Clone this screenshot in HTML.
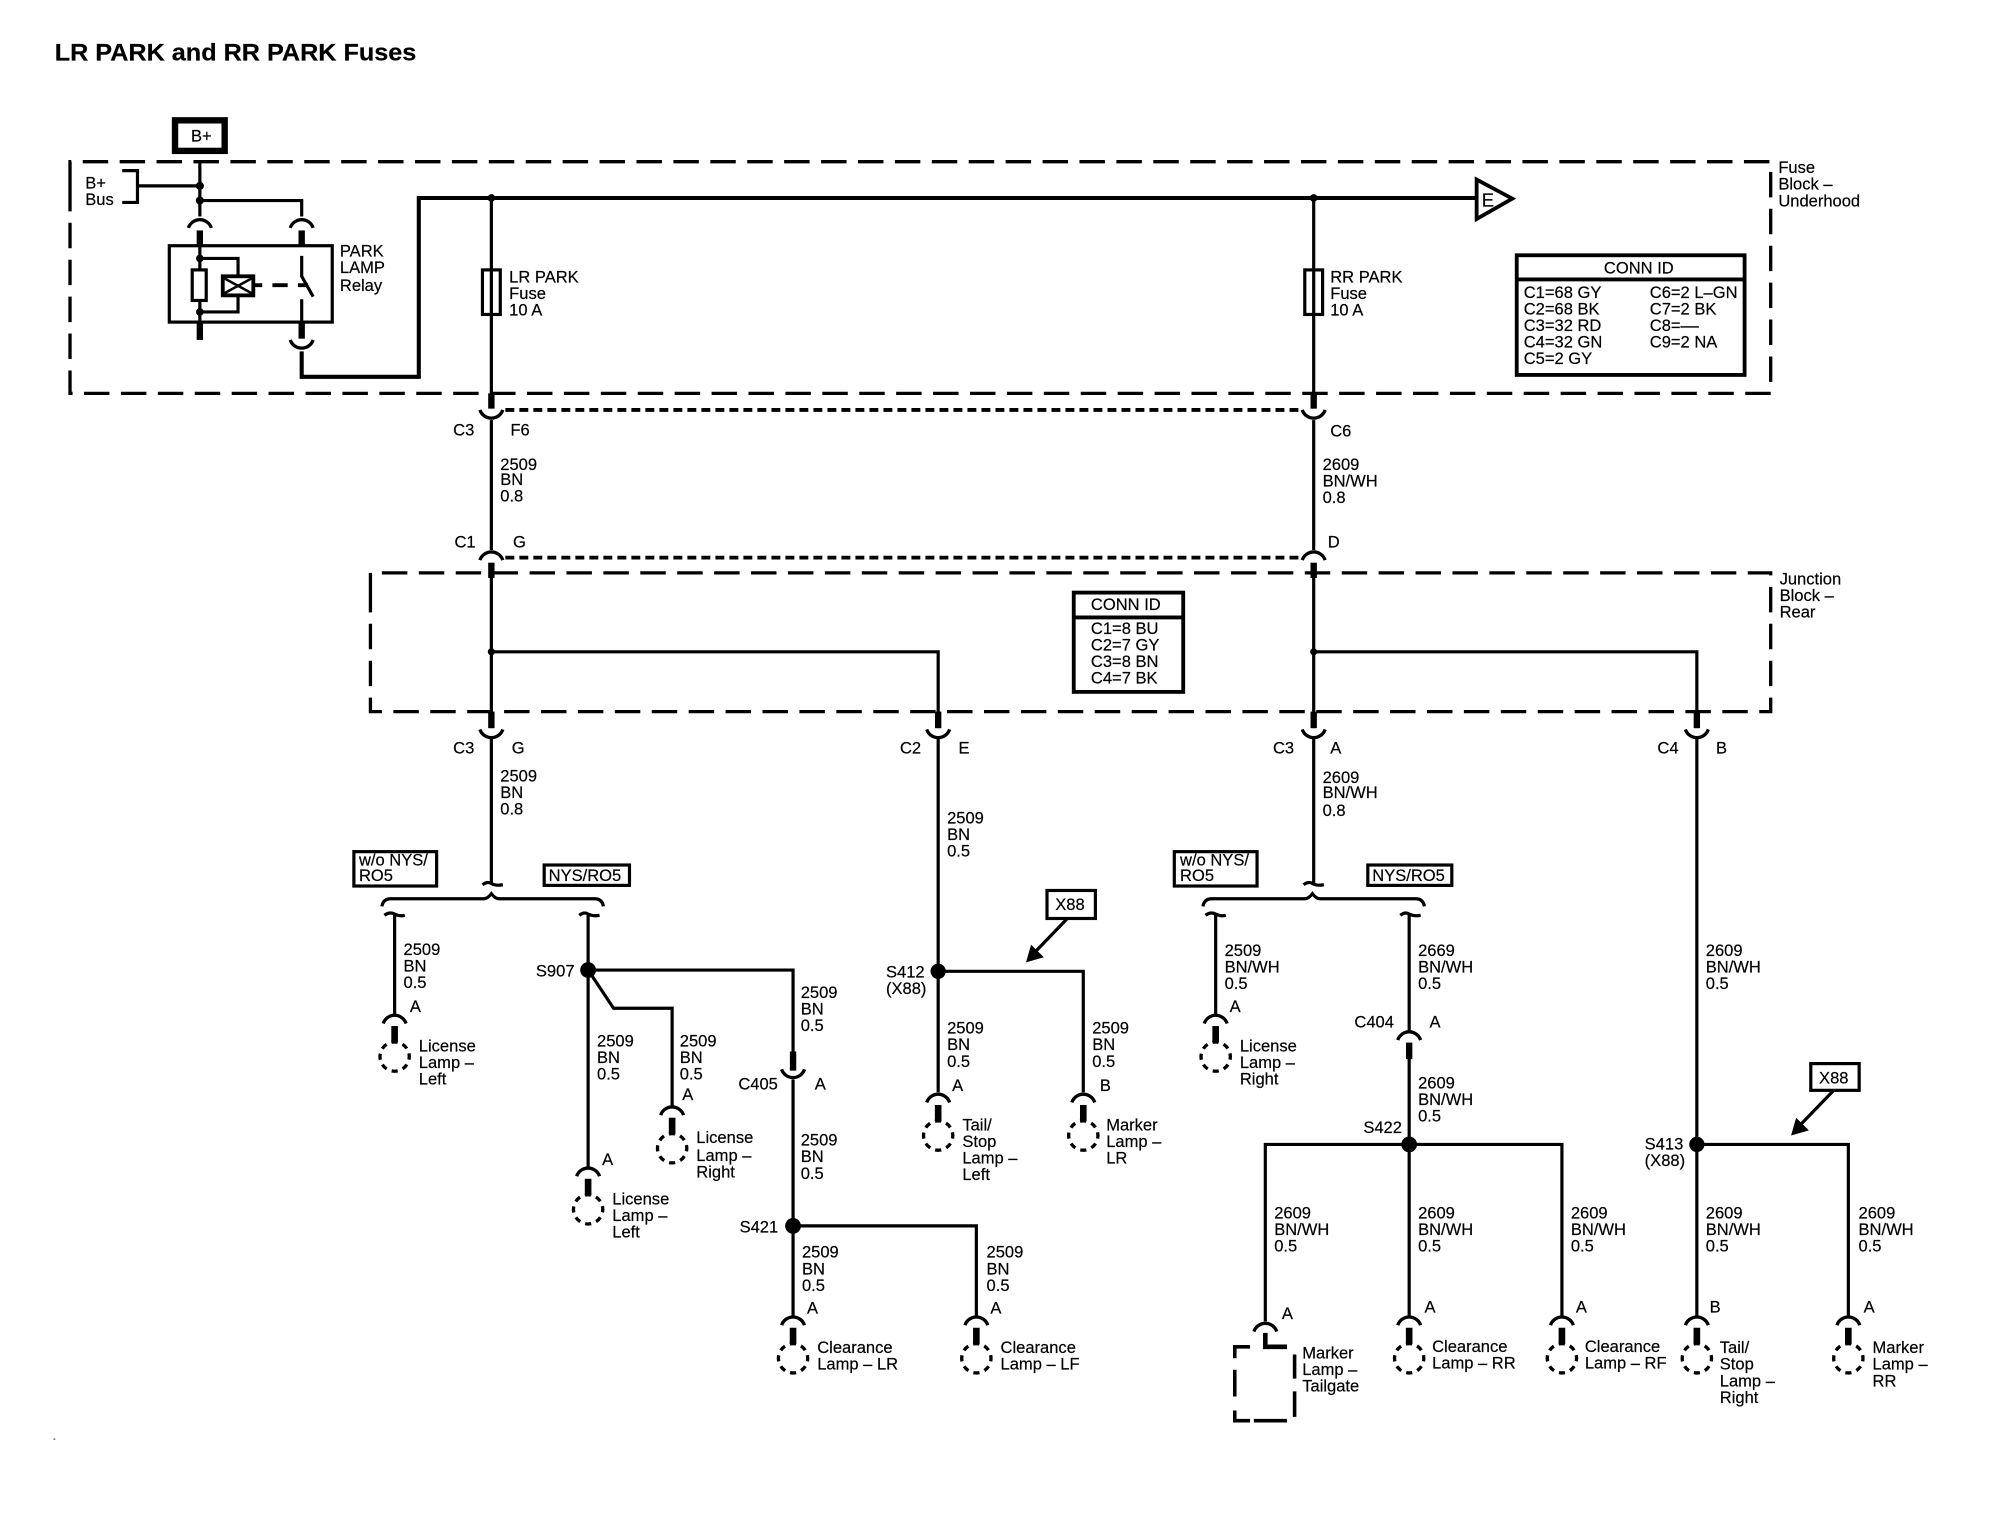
<!DOCTYPE html>
<html><head><meta charset="utf-8"><title>LR PARK and RR PARK Fuses</title>
<style>
html,body{margin:0;padding:0;background:#fff}
svg{display:block}
text{font-family:"Liberation Sans",sans-serif;font-size:13px;fill:#000;stroke:#000;stroke-width:.15}
.w{fill:none;stroke:#000;stroke-width:2.5}
.m{fill:none;stroke:#000;stroke-width:3.2}
.d{fill:none;stroke:#000;stroke-width:2.6;stroke-dasharray:20 9}
.s{fill:none;stroke:#000;stroke-width:3;stroke-dasharray:7 4}
.b{fill:#fff;stroke:#000;stroke-width:2.6}
</style></head><body>
<svg width="1996" height="1520" viewBox="0 0 1568 1194" xmlns="http://www.w3.org/2000/svg">
<defs>
<g id="lamp"><path d="M-9 9A9.5 9.5 0 0 1 9 9" fill="none" stroke="#000" stroke-width="2.6"/><rect x="-2.6" y="11" width="5.2" height="13" fill="#000"/><circle cy="35" r="11.5" fill="none" stroke="#000" stroke-width="2.6" stroke-dasharray="4.8 4.2" stroke-dashoffset="2.4"/></g>
<g id="capT"><path d="M-9 9A9.5 9.5 0 0 1 9 9" fill="none" stroke="#000" stroke-width="2.6"/></g>
<g id="capB"><path d="M-9 0A9.5 9.5 0 0 0 9 0" fill="none" stroke="#000" stroke-width="2.6"/></g>
<g id="brace"><path d="M300 712Q301 706 307 706H380Q383 706 386 702Q389 706 392 706H467Q473 706 474 712" class="w"/><path d="M379 695Q383 692 386 694Q389 696 395 695M302 719Q306 716 310 718Q314 720 318 719M455 719Q459 716 462 718Q466 720 471 719" class="w"/></g>
<g id="fuse"><rect x="-7" y="0" width="14" height="35" class="w"/></g>
</defs>

<text x="43" y="47.5" style="font-size:19px;font-weight:bold" textLength="284" lengthAdjust="spacingAndGlyphs">LR PARK and RR PARK Fuses</text>
<rect x="137.5" y="94.5" width="39" height="24" fill="none" stroke="#000" stroke-width="5"/>
<text x="150" y="111">B+</text>

<path class="d" d="M55 146V127H1391V309H55V146"/>
<path class="d" d="M291 470V450H1391V559H291V470"/>
<text x="67" y="148">B+</text><text x="67" y="161">Bus</text>
<path class="w" d="M96 134H108V159H96M108 146H157M157 127V170M157 157.5H237V170"/>
<circle cx="157" cy="146" r="3.2"/><circle cx="157" cy="157.5" r="3.2"/>
<use href="#capT" x="157" y="170"/><use href="#capT" x="237" y="170"/>
<rect x="133" y="193" width="128" height="60" class="w"/>
<rect x="154.5" y="181" width="5" height="13"/><rect x="234.5" y="181" width="5" height="13"/>
<path class="w" d="M157 193V212M157 236V254M157 203H187V217M187 231V245H157"/>
<rect x="154.5" y="254" width="5" height="13"/>
<circle cx="157" cy="203" r="3"/><circle cx="157" cy="245" r="3"/>
<rect x="151" y="212" width="11" height="24" class="w"/>
<rect x="175" y="217" width="24" height="15" class="w" style="stroke-width:3"/>
<path d="M175 218L199 231M175 231L199 218" stroke="#000" stroke-width="2"/>
<path d="M200 224H206M214 224H226M234 224H242" class="w" style="stroke-width:3"/>
<path class="w" d="M237 201V217L246 233M237 235V254"/>
<rect x="234.5" y="254" width="5" height="12"/>
<use href="#capB" x="237" y="267"/>
<path class="m" d="M237 276V296H329V155.5H1160"/>
<circle cx="386" cy="155.5" r="3"/><circle cx="1032" cy="155.5" r="3"/>
<polygon points="1160,141 1188,156 1160,172" fill="#fff" stroke="#000" stroke-width="3"/>
<text x="1164" y="162" style="font-size:14.5px">E</text>

<text x="267" y="201.5">PARK</text><text x="267" y="214.5">LAMP</text><text x="267" y="228.5">Relay</text>
<text x="1397" y="136">Fuse</text><text x="1397" y="149">Block –</text><text x="1397" y="162">Underhood</text>
<text x="1398" y="459">Junction</text><text x="1398" y="472">Block –</text><text x="1398" y="485">Rear</text>

<!-- left and right main wires -->
<path class="w" d="M386 155V310M1032 155V310M386 330V432M1032 330V432"/>
<rect x="383.5" y="309" width="5" height="12"/><rect x="1029.5" y="309" width="5" height="12"/>
<use href="#capB" x="386" y="322"/><use href="#capB" x="1032" y="322"/>
<use href="#fuse" x="386" y="212"/><use href="#fuse" x="1032" y="212"/>
<text x="400" y="222">LR PARK</text><text x="400" y="235">Fuse</text><text x="400" y="248">10 A</text>
<text x="1045" y="222">RR PARK</text><text x="1045" y="235">Fuse</text><text x="1045" y="248">10 A</text>
<path class="s" d="M397 322H1024M397 438H1024"/>
<text x="356" y="342">C3</text><text x="401" y="342">F6</text><text x="1045" y="343">C6</text>
<text x="393" y="369">2509</text><text x="393" y="381">BN</text><text x="393" y="394">0.8</text>
<text x="1039" y="369">2609</text><text x="1039" y="382">BN/WH</text><text x="1039" y="395">0.8</text>
<text x="357" y="430">C1</text><text x="403" y="430">G</text><text x="1043" y="430">D</text>
<use href="#capT" x="386" y="431"/><use href="#capT" x="1032" y="431"/>
<rect x="383.5" y="442" width="5" height="12"/><rect x="1029.5" y="442" width="5" height="12"/>
<path class="w" d="M386 450V572M1032 450V572M386 512H737V572M1032 512H1333V572"/>
<circle cx="386" cy="512" r="2.8"/><circle cx="1032" cy="512" r="2.8"/>
<rect x="383.5" y="559" width="5" height="13"/><rect x="734.5" y="559" width="5" height="13"/><rect x="1029.5" y="559" width="5" height="13"/><rect x="1330.5" y="559" width="5" height="13"/>
<use href="#capB" x="386" y="573"/><use href="#capB" x="737" y="573"/><use href="#capB" x="1032" y="573"/><use href="#capB" x="1333" y="573"/>

<!-- conn id boxes -->
<rect x="1191.5" y="200.5" width="179" height="94" class="w" style="stroke-width:3"/>
<path class="w" style="stroke-width:3" d="M1191 219.5H1371"/>
<text x="1260" y="215">CONN ID</text>
<text x="1197" y="234">C1=68 GY</text><text x="1197" y="247">C2=68 BK</text><text x="1197" y="260">C3=32 RD</text><text x="1197" y="273">C4=32 GN</text><text x="1197" y="286">C5=2 GY</text>
<text x="1296" y="234">C6=2 L–GN</text><text x="1296" y="247">C7=2 BK</text><text x="1296" y="260">C8=––</text><text x="1296" y="273">C9=2 NA</text>
<rect x="843.5" y="465.5" width="86" height="78" class="b" style="stroke-width:3"/>
<path class="w" style="stroke-width:3" d="M843 485H930"/>
<text x="857" y="479">CONN ID</text>
<text x="857" y="498">C1=8 BU</text><text x="857" y="511">C2=7 GY</text><text x="857" y="524">C3=8 BN</text><text x="857" y="537">C4=7 BK</text>

<text x="356" y="592">C3</text><text x="402" y="592">G</text><text x="707" y="592">C2</text><text x="753" y="592">E</text><text x="1000" y="592">C3</text><text x="1045" y="592">A</text><text x="1302" y="592">C4</text><text x="1348" y="592">B</text>
<text x="393" y="614">2509</text><text x="393" y="627">BN</text><text x="393" y="640">0.8</text>
<text x="744" y="647">2509</text><text x="744" y="660">BN</text><text x="744" y="673">0.5</text>
<text x="1039" y="615">2609</text><text x="1039" y="627">BN/WH</text><text x="1039" y="641">0.8</text>
<text x="1340" y="751">2609</text><text x="1340" y="764">BN/WH</text><text x="1340" y="777">0.5</text>

<path class="w" d="M386 580V694M737 580V858M1032 580V694M1333 580V1034"/>

<!-- left option -->
<rect x="278" y="669" width="65" height="27" class="w"/><text x="282" y="680">w/o NYS/</text><text x="282" y="692">RO5</text>
<rect x="427.5" y="679.5" width="67" height="16" class="w"/><text x="431" y="692">NYS/RO5</text>
<use href="#brace"/>
<path class="w" d="M310 718V797M462 718V917M462 762H623V826M623 848V1034M462 762L482 792H528V869M623 963H767V1034"/>
<rect x="620.5" y="826" width="5" height="15"/><use href="#capB" x="623" y="840"/>
<circle cx="462" cy="762" r="6.2"/><circle cx="623" cy="963" r="6.2"/>
<use href="#lamp" x="310" y="795"/><use href="#lamp" x="462" y="915"/><use href="#lamp" x="528" y="867"/><use href="#lamp" x="623" y="1032"/><use href="#lamp" x="767" y="1032"/>
<text x="317" y="750">2509</text><text x="317" y="763">BN</text><text x="317" y="776">0.5</text><text x="322" y="795">A</text>
<text x="329" y="826">License</text><text x="329" y="839">Lamp –</text><text x="329" y="852">Left</text>
<text x="421" y="767">S907</text>
<text x="469" y="822">2509</text><text x="469" y="835">BN</text><text x="469" y="848">0.5</text><text x="473" y="915">A</text>
<text x="481" y="946">License</text><text x="481" y="959">Lamp –</text><text x="481" y="972">Left</text>
<text x="534" y="822">2509</text><text x="534" y="835">BN</text><text x="534" y="848">0.5</text><text x="536" y="864">A</text>
<text x="547" y="898">License</text><text x="547" y="912">Lamp –</text><text x="547" y="925">Right</text>
<text x="629" y="784">2509</text><text x="629" y="797">BN</text><text x="629" y="810">0.5</text>
<text x="580" y="856">C405</text><text x="640" y="856">A</text>
<text x="629" y="900">2509</text><text x="629" y="913">BN</text><text x="629" y="926">0.5</text>
<text x="581" y="968">S421</text>
<text x="630" y="988">2509</text><text x="630" y="1001">BN</text><text x="630" y="1014">0.5</text><text x="634" y="1032">A</text>
<text x="775" y="988">2509</text><text x="775" y="1001">BN</text><text x="775" y="1014">0.5</text><text x="778" y="1032">A</text>
<text x="642" y="1063">Clearance</text><text x="642" y="1076">Lamp – LR</text>
<text x="786" y="1063">Clearance</text><text x="786" y="1076">Lamp – LF</text>

<!-- S412 -->
<circle cx="737" cy="763" r="6"/>
<path class="w" d="M737 763H851V858"/>
<use href="#lamp" x="737" y="857"/><use href="#lamp" x="851" y="857"/>
<text x="696" y="768">S412</text><text x="696" y="781">(X88)</text>
<text x="744" y="812">2509</text><text x="744" y="825">BN</text><text x="744" y="838">0.5</text><text x="748" y="857">A</text>
<text x="858" y="812">2509</text><text x="858" y="825">BN</text><text x="858" y="838">0.5</text><text x="864" y="857">B</text>
<text x="756" y="888">Tail/</text><text x="756" y="901">Stop</text><text x="756" y="914">Lamp –</text><text x="756" y="927">Left</text>
<text x="869" y="888">Marker</text><text x="869" y="901">Lamp –</text><text x="869" y="914">LR</text>
<rect x="822.5" y="699.5" width="38" height="22" class="w"/><text x="829" y="715">X88</text>
<path class="w" d="M838 722L812 749"/><polygon points="806,756 810,742 820,752"/>

<!-- right option -->
<rect x="922.5" y="669" width="65" height="27" class="w"/><text x="927" y="680">w/o NYS/</text><text x="927" y="692">RO5</text>
<rect x="1074.5" y="679.5" width="66" height="16" class="w"/><text x="1078" y="692">NYS/RO5</text>
<use href="#brace" x="645"/>
<path class="w" d="M955 718V797M1107 718V810M1107 830V899M994 1038V899H1227V1034M1107 899V1034"/>
<use href="#capT" x="1107" y="808"/><rect x="1104.5" y="819" width="5" height="13"/>
<circle cx="1107" cy="899" r="6.2"/>
<use href="#lamp" x="955" y="795"/><use href="#lamp" x="1107" y="1032"/><use href="#lamp" x="1227" y="1032"/><use href="#lamp" x="1333" y="1032"/><use href="#lamp" x="1452" y="1032"/>
<use href="#capT" x="994" y="1037"/>
<path d="M994 1047V1058H1011" fill="none" stroke="#000" stroke-width="3.6"/>
<path d="M982 1058H970V1067M970 1076V1097M970 1108V1116H982M985 1116H1011M1017 1113V1093M1017 1083V1064" fill="none" stroke="#000" stroke-width="2.8"/>
<text x="962" y="751">2509</text><text x="962" y="764">BN/WH</text><text x="962" y="777">0.5</text><text x="966" y="795">A</text>
<text x="974" y="826">License</text><text x="974" y="839">Lamp –</text><text x="974" y="852">Right</text>
<text x="1114" y="751">2669</text><text x="1114" y="764">BN/WH</text><text x="1114" y="777">0.5</text>
<text x="1064" y="807">C404</text><text x="1123" y="807">A</text>
<text x="1114" y="855">2609</text><text x="1114" y="868">BN/WH</text><text x="1114" y="881">0.5</text>
<text x="1071" y="890">S422</text>
<text x="1001" y="957">2609</text><text x="1001" y="970">BN/WH</text><text x="1001" y="983">0.5</text><text x="1007" y="1036">A</text>
<text x="1114" y="957">2609</text><text x="1114" y="970">BN/WH</text><text x="1114" y="983">0.5</text><text x="1119" y="1031">A</text>
<text x="1234" y="957">2609</text><text x="1234" y="970">BN/WH</text><text x="1234" y="983">0.5</text><text x="1238" y="1031">A</text>
<text x="1023" y="1067">Marker</text><text x="1023" y="1080">Lamp –</text><text x="1023" y="1093">Tailgate</text>
<text x="1125" y="1062">Clearance</text><text x="1125" y="1075">Lamp – RR</text>
<text x="1245" y="1062">Clearance</text><text x="1245" y="1075">Lamp – RF</text>

<!-- S413 -->
<circle cx="1333" cy="899" r="6"/>
<path class="w" d="M1333 899H1452V1034"/>
<text x="1292" y="903">S413</text><text x="1292" y="916">(X88)</text>
<text x="1340" y="957">2609</text><text x="1340" y="970">BN/WH</text><text x="1340" y="983">0.5</text><text x="1343" y="1031">B</text>
<text x="1460" y="957">2609</text><text x="1460" y="970">BN/WH</text><text x="1460" y="983">0.5</text><text x="1464" y="1031">A</text>
<text x="1351" y="1063">Tail/</text><text x="1351" y="1076">Stop</text><text x="1351" y="1089">Lamp –</text><text x="1351" y="1102">Right</text>
<text x="1471" y="1063">Marker</text><text x="1471" y="1076">Lamp –</text><text x="1471" y="1089">RR</text>
<rect x="1422.5" y="835.5" width="38" height="21" class="w"/><text x="1429" y="851">X88</text>
<path class="w" d="M1440 857L1413 885"/><polygon points="1407,892 1411,878 1421,888"/>
<rect x="42" y="1130" width="1.5" height="1" fill="#555"/>
</svg>
</body></html>
